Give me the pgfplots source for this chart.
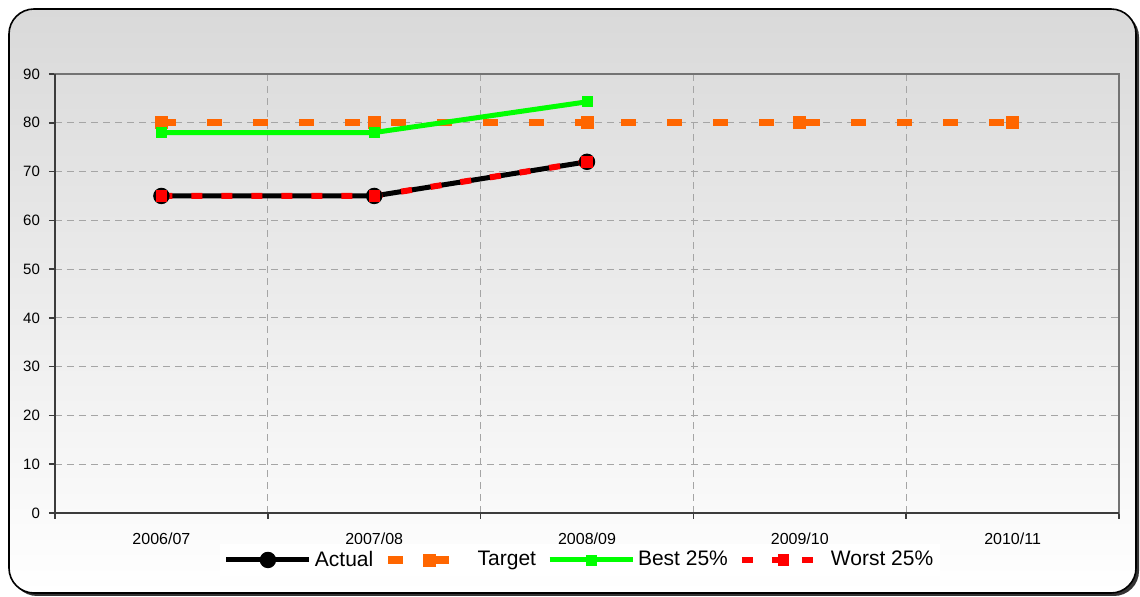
\documentclass[border=0pt]{standalone}
\usepackage{pgfplots}
\pgfplotsset{compat=1.18}
\usepackage{fontspec}
\setmainfont{Liberation Sans}
\definecolor{orangeT}{RGB}{255,102,0}
\definecolor{greenB}{RGB}{0,255,0}
\definecolor{gridc}{RGB}{165,165,165}
\definecolor{bgtop}{RGB}{217,217,217}
\definecolor{axtop}{RGB}{115,115,115}
\definecolor{axdark}{RGB}{60,60,60}
\begin{document}
\begin{tikzpicture}
\begin{scope}[x=0.5pt,y=-0.5pt]
\path (0,0) rectangle (1140,597);
\fill[black!80, rounded corners=12.5pt] (12,12) rectangle (1139,596);
\shade[top color=bgtop, bottom color=white, rounded corners=12.5pt] (9,9) rectangle (1136,593);
\draw[black, line width=0.8pt, rounded corners=12.5pt] (9,9) rectangle (1136,593);
\end{scope}
\begin{axis}[
  at={(27.5pt,-256.5pt)}, anchor=south west,
  scale only axis, width=532pt, height=219.5pt,
  xmin=-0.5, xmax=4.5, ymin=0, ymax=90,
  xtick={-0.5,0.5,1.5,2.5,3.5,4.5},
  x tick label as interval,
  xticklabels={2006/07,2007/08,2008/09,2009/10,2010/11},
  ytick={0,10,...,90},
  xtick pos=left, ytick pos=left,
  grid=major,
  grid style={gridc, dash pattern=on 3.5pt off 2.5pt, line width=0.5pt},
  axis line style={axtop, line width=1pt},
  tick align=outside, major tick length=3pt,
  tick style={axdark, line width=0.8pt},
  /pgf/number format/assume math mode=true,
  tick label style={font=\fontsize{7.5}{9}\selectfont},
  xticklabel style={yshift=-3.5pt, font=\fontsize{8}{9}\selectfont},
  yticklabel style={xshift=-1pt},
  legend style={at={(axis description cs:0.4935,-0.107)}, anchor=center,
    draw=none, fill=white, legend columns=4,
    font=\fontsize{10.5}{12}\selectfont, inner sep=2pt,
    nodes={inner sep=1.5pt},
    /tikz/every even column/.append style={column sep=4pt}},
  legend image code/.code={\draw[mark repeat=2,mark phase=2] plot coordinates {(0pt,0pt) (20.75pt,0pt) (41.5pt,0pt)};},
  after end axis/.code={\draw[axdark, line width=1.3pt] (rel axis cs:0,1) -- (rel axis cs:0,0) -- (rel axis cs:1,0);},
]
\addplot[black, line width=2.5pt, mark=*, mark size=3.8pt, mark options={line width=0.6pt}] coordinates {(0,65) (1,65) (2,72)};
\addlegendentry{Actual}
\addplot[orangeT, line width=3.7pt, dash pattern=on 7.5pt off 15.5pt, mark=square*, mark size=3pt, mark options={solid, line width=0.4pt, rounded corners=0.8pt}] coordinates {(0,80) (1,80) (2,80) (3,80) (4,80)};
\addlegendentry{Target}
\addplot[greenB, line width=2.5pt, mark=square*, mark size=2.5pt, mark options={line width=0.4pt}] coordinates {(0,78) (1,78) (2,84.3)};
\addlegendentry{Best 25\%}
\addplot[red, line width=3pt, dash pattern=on 5.5pt off 9.5pt, mark=square*, mark size=2.6pt, mark options={solid, line width=0.4pt}] coordinates {(0,65) (1,65) (2,72)};
\addlegendentry{Worst 25\%}
\end{axis}
\end{tikzpicture}
\end{document}
